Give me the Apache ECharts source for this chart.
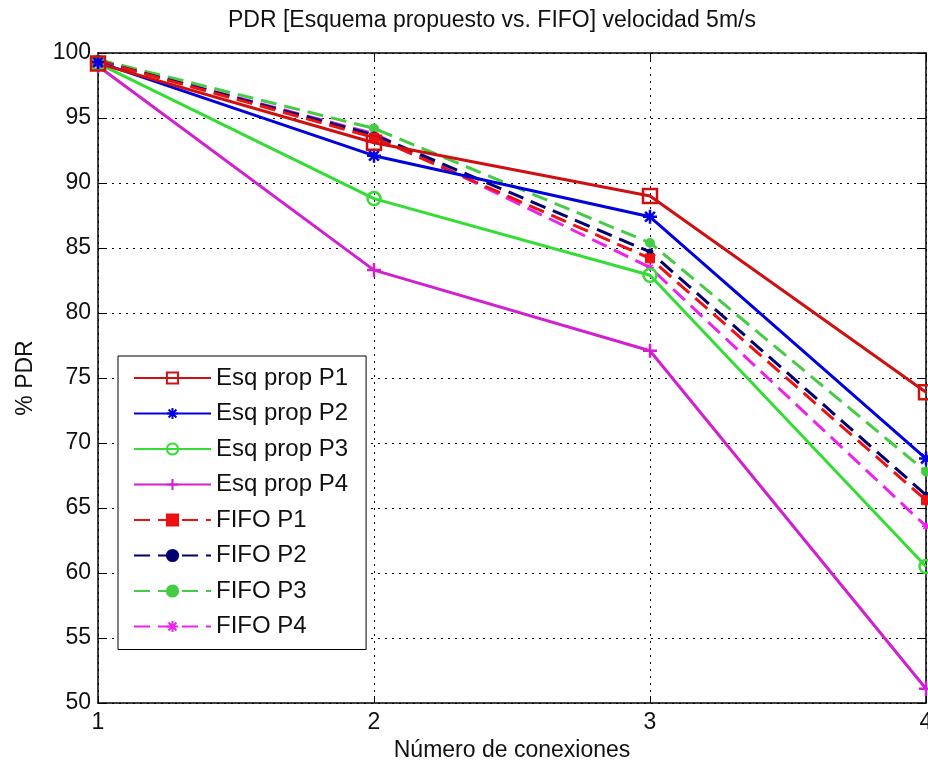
<!DOCTYPE html>
<html>
<head>
<meta charset="utf-8">
<script src="https://cdn.jsdelivr.net/npm/echarts@6/dist/echarts.min.js"></script>
<style>
  html, body { margin: 0; padding: 0; background: #fff; }
  #chart { width: 928px; height: 769px; }
</style>
</head>
<body>
<div id="chart"></div>
<script>
// x: Número de conexiones
var conexiones = [1, 2, 3, 4];
var yTicks = [50, 55, 60, 65, 70, 75, 80, 85, 90, 95, 100];

// % PDR
var esqP1 = [99.2, 93.1, 89.0, 73.9];
var esqP2 = [99.3, 92.1, 87.4, 68.8];
var esqP3 = [99.2, 88.8, 82.9, 60.5];
var esqP4 = [99.0, 83.3, 77.1, 51.1];
var fifoP1 = [99.4, 93.5, 84.2, 65.6];
var fifoP2 = [99.4, 93.7, 84.7, 66.0];
var fifoP3 = [99.5, 94.2, 85.4, 67.8];
var fifoP4 = [99.4, 93.8, 83.5, 63.6];

var FONT = '"Liberation Sans", Arial, sans-serif';
var ASTER = 'path://M5,0L5,10M0,5L10,5M1.5,1.5L8.5,8.5M1.5,8.5L8.5,1.5';
var PLUS = 'path://M5,0L5,10M0,5L10,5';

function pairs(vals) {
  return conexiones.map(function (x, i) { return [x, vals[i]]; });
}

function serie(name, vals, color, dashed, symbol, size, hollow, stroke) {
  return {
    name: name,
    type: 'line',
    data: pairs(vals),
    symbol: symbol,
    symbolSize: size,
    lineStyle: { color: color, width: 3, type: dashed ? [16, 8] : 'solid' },
    itemStyle: {
      color: hollow ? 'rgba(0,0,0,0)' : color,
      borderColor: color,
      borderWidth: stroke
    },
    emphasis: { disabled: true },
    z: 3
  };
}

var myChart = echarts.init(document.getElementById('chart'));

myChart.setOption({
  animation: false,
  backgroundColor: '#fff',
  textStyle: { fontFamily: FONT },
  graphic: [{
    type: 'text',
    left: 228,
    top: 9,
    style: {
      text: 'PDR [Esquema propuesto vs. FIFO] velocidad 5m/s',
      font: '23px ' + FONT,
      fill: '#111'
    }
  }],
  grid: { left: 98, right: 2, top: 53, bottom: 66, outerBoundsMode: 'none' },
  legend: {
    orient: 'vertical',
    left: 118,
    top: 356,
    padding: [10, 18, 11, 15],
    itemWidth: 77,
    itemHeight: 14,
    itemGap: 11.5,
    backgroundColor: '#fff',
    borderColor: '#000',
    borderWidth: 1,
    borderRadius: 0,
    textStyle: { fontSize: 24, lineHeight: 24, color: '#111', fontFamily: FONT },
    data: ['Esq prop P1', 'Esq prop P2', 'Esq prop P3', 'Esq prop P4',
           'FIFO P1', 'FIFO P2', 'FIFO P3', 'FIFO P4']
  },
  xAxis: [{
    type: 'value',
    min: conexiones[0],
    max: conexiones[conexiones.length - 1],
    interval: 1,
    position: 'bottom',
    name: 'Número de conexiones',
    nameLocation: 'middle',
    nameGap: 34,
    nameTextStyle: { fontSize: 23, color: '#111', fontFamily: FONT },
    axisLine: { onZero: false, lineStyle: { color: '#000', width: 1.5 } },
    axisTick: { inside: true, length: 7, lineStyle: { color: '#000' } },
    axisLabel: { fontSize: 23, color: '#111', margin: 8, fontFamily: FONT },
    splitLine: { show: true, lineStyle: { color: '#000', type: [2, 5], width: 1 } }
  }, {
    type: 'value',
    min: conexiones[0],
    max: conexiones[conexiones.length - 1],
    interval: 1,
    position: 'top',
    axisLine: { onZero: false, lineStyle: { color: '#000', width: 1.5 } },
    axisTick: { inside: true, length: 7, lineStyle: { color: '#000' } },
    axisLabel: { show: false },
    splitLine: { show: false }
  }],
  yAxis: [{
    type: 'value',
    min: yTicks[0],
    max: yTicks[yTicks.length - 1],
    interval: 5,
    position: 'left',
    name: '% PDR',
    nameLocation: 'middle',
    nameGap: 61,
    nameRotate: 90,
    nameTextStyle: { fontSize: 23, color: '#111', fontFamily: FONT },
    axisLine: { show: true, onZero: false, lineStyle: { color: '#000', width: 1.5 } },
    axisTick: { show: true, inside: true, length: 7, lineStyle: { color: '#000' } },
    axisLabel: { fontSize: 23, color: '#111', margin: 7, fontFamily: FONT },
    splitLine: { show: true, lineStyle: { color: '#000', type: [2, 5], width: 1 } }
  }, {
    type: 'value',
    min: yTicks[0],
    max: yTicks[yTicks.length - 1],
    interval: 5,
    position: 'right',
    axisLine: { show: true, onZero: false, lineStyle: { color: '#000', width: 1.5 } },
    axisTick: { show: true, inside: true, length: 7, lineStyle: { color: '#000' } },
    axisLabel: { show: false },
    splitLine: { show: false }
  }],
  series: [
    serie('FIFO P4', fifoP4, '#ee22ee', true, ASTER, 8, false, 1.5),
    serie('FIFO P3', fifoP3, '#44cc44', true, 'circle', 9, false, 1),
    serie('FIFO P2', fifoP2, '#000070', true, 'circle', 6, false, 1),
    serie('FIFO P1', fifoP1, '#ee1111', true, 'rect', 9, false, 1),
    serie('Esq prop P4', esqP4, '#d020d0', false, PLUS, 14, false, 2.5),
    serie('Esq prop P3', esqP3, '#33dd33', false, 'circle', 13, true, 2.5),
    serie('Esq prop P2', esqP2, '#0000e0', false, ASTER, 14, false, 2.5),
    serie('Esq prop P1', esqP1, '#d01010', false, 'rect', 14, true, 2.5)
  ]
});
</script>
</body>
</html>
